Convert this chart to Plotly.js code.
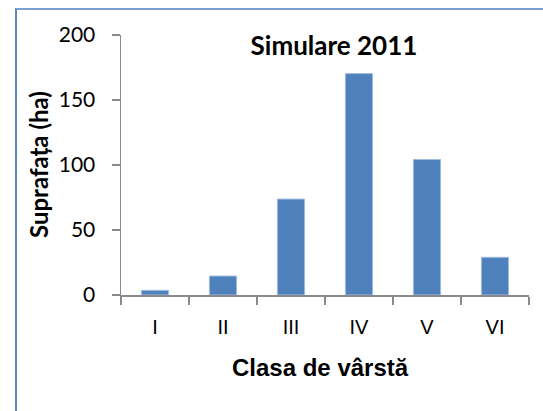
<!DOCTYPE html>
<html>
<head>
<meta charset="utf-8">
<script src="https://cdn.plot.ly/plotly-3.0.1.min.js"></script>
<style>
  html, body { margin: 0; padding: 0; background: #ffffff; }
  #wrap { position: relative; width: 543px; height: 411px; overflow: hidden; }
  #frame { position: absolute; left: 15px; top: 8px; width: 600px; height: 500px;
           border-left: 2px solid #5b87c3; border-top: 2px solid #7a9fd0; box-sizing: border-box; pointer-events: none; }
  #chart { position: absolute; left: 0; top: 0; width: 543px; height: 411px; }
</style>
</head>
<body>
<div id="wrap">
  <div id="chart"></div>
  <div id="frame"></div>
</div>
<script>
const categories = ["I", "II", "III", "IV", "V", "VI"];
const values = [3.6, 14.6, 73.8, 170.3, 104.3, 29];
const yTickValues = [0, 50, 100, 150, 200];
const chartTitle = "Simulare 2011";
const xTitle = "Clasa de vârstă";
const yTitle = "Suprafața (ha)";

const W = 543, H = 411;
const plotLeft = 121, plotRight = 529, plotTop = 35, plotBottom = 295;
const pw = plotRight - plotLeft, ph = plotBottom - plotTop;

const trace = {
  type: "bar",
  x: categories,
  y: values,
  width: 0.4,
  marker: { color: "#4f81bd", line: { color: "#a3bde0", width: 1 } },
  hoverinfo: "x+y"
};

const layout = {
  width: W, height: H,
  margin: { l: plotLeft, r: W - plotRight, t: plotTop, b: H - plotBottom },
  paper_bgcolor: "rgba(0,0,0,0)",
  plot_bgcolor: "rgba(0,0,0,0)",
  showlegend: false,
  title: {
    text: "<b>" + chartTitle + "</b>",
    font: { family: "Lato, 'Open Sans', sans-serif", size: 26, color: "#000000" },
    xref: "paper", x: (334 - plotLeft) / pw, xanchor: "center",
    yref: "container", y: 1 - 46 / H, yanchor: "middle"
  },
  xaxis: {
    type: "category",
    range: [-0.5, 5.5],
    tickson: "boundaries",
    ticks: "outside", ticklen: 8, tickwidth: 1.5, tickcolor: "#8a8a8a",
    showline: true, linecolor: "#8a8a8a", linewidth: 1.5,
    showgrid: false, zeroline: false,
    tickfont: { family: "'Liberation Sans', Arial, sans-serif", size: 20, color: "#000000" },
    ticklabelstandoff: 13,
    fixedrange: true
  },
  yaxis: {
    range: [0, 200],
    tickvals: yTickValues,
    ticktext: yTickValues.map(String),
    ticks: "outside", ticklen: 8, tickwidth: 1.5, tickcolor: "#8a8a8a",
    showline: true, linecolor: "#8a8a8a", linewidth: 1.5,
    showgrid: false, zeroline: false,
    tickfont: { family: "Lato, 'Open Sans', sans-serif", size: 21, color: "#000000" },
    ticklabelstandoff: 12,
    fixedrange: true
  },
  annotations: [
    {
      text: "<b>" + yTitle + "</b>",
      xref: "paper", yref: "paper",
      x: (38 - plotLeft) / pw, y: (plotBottom - 165) / ph,
      xanchor: "center", yanchor: "middle",
      textangle: -90, showarrow: false,
      font: { family: "Lato, 'Open Sans', sans-serif", size: 24, color: "#000000" }
    },
    {
      text: "<b>" + xTitle + "</b>",
      xref: "paper", yref: "paper",
      x: (320 - plotLeft) / pw, y: (plotBottom - 367) / ph,
      xanchor: "center", yanchor: "middle",
      showarrow: false,
      font: { family: "'Liberation Sans', Arial, sans-serif", size: 24, color: "#000000" }
    }
  ]
};

Plotly.newPlot("chart", [trace], layout, { displayModeBar: false, staticPlot: true });
</script>
</body>
</html>
